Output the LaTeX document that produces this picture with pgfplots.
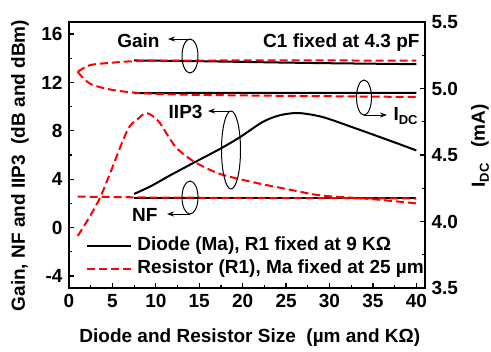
\documentclass[border=0pt]{standalone}
\usepackage{fontspec}
\setmainfont{Liberation Sans}
\usepackage{pgfplots}
\pgfplotsset{compat=1.18}
\usetikzlibrary{arrows.meta}
\begin{document}
\fontsize{19bp}{22bp}\selectfont\bfseries
\begin{tikzpicture}[x=1bp,y=1bp]
\path[use as bounding box] (-69,-63) rectangle (422,288);
\pgfplotsset{
  mystyle/.style={
    at={(0,0)}, anchor=south west, scale only axis, width=356bp, height=266bp,
    xmin=0, xmax=41,
    tick align=inside, major tick length=5bp, minor tick length=3bp,
    every tick/.style={line width=1.2bp, black},
    axis line style={line width=2bp},
    ticklabel style={font=\fontsize{19bp}{22bp}\selectfont\bfseries},
    /pgf/number format/assume math mode=true,
  }
}
\begin{axis}[mystyle,
  ymin=-5, ymax=17,
  xtick={0,5,...,40}, ytick={-4,0,...,16},
  minor x tick num=1, minor y tick num=1,
  xtick pos=bottom, ytick pos=left,
  xlabel={Diode and Resistor Size\ \ (µm and KΩ)},
  ylabel={Gain, NF and IIP3\ \ (dB and dBm)},
  every axis x label/.style={at={(rel axis cs:0.508,-0.203)}, anchor=base},
  every axis y label/.style={at={(rel axis cs:-0.1376,0.46)}, rotate=90, anchor=center},
  legend style={at={(0.048,0.197)}, anchor=north west, draw=none, fill=none,
    inner sep=0pt, row sep=3bp,
    nodes={inner sep=1bp, text height=14bp, text depth=4bp},
    font=\fontsize{19bp}{22bp}\selectfont\bfseries},
  legend cell align=left,
  legend image code/.code={\draw[#1] (0bp,0bp) -- (44bp,0bp); \path (48bp,0bp);},
]
% black (diode)
\addplot[black, line width=2bp, smooth] coordinates {(7.5,2.78)(9.5,3.45)(11.6,4.3)(14.5,5.41)(17.4,6.51)(19.7,7.48)(22.3,8.73)(24.25,9.28)(26.4,9.47)(29.2,9.14)(33.1,8.18)(36.9,7.2)(40,6.38)};
\addlegendentry{Diode (Ma), R1 fixed at 9 KΩ}
\addplot[black, line width=2bp, forget plot] coordinates {(7.5,13.82)(15,13.76)(20,13.70)(25,13.64)(30,13.59)(35,13.55)(40,13.51)};
\addplot[black, line width=2bp, forget plot] coordinates {(7.5,2.45)(40,2.45)};
% red (resistor)
\addplot[red, line width=2bp, dash pattern=on 8bp off 4bp, smooth] coordinates {(1,-0.7)(3.56,2.45)(6.63,7.9)(7.78,8.87)(8.93,9.47)(10.3,8.8)(11.6,7.35)(12.56,6.45)(14.5,5.41)(17.36,4.44)(21.2,3.75)(26,3.05)(29.2,2.64)(34.6,2.37)(40,2.0)};
\addlegendentry{Resistor (R1), Ma fixed at 25 µm}
\addplot[red, line width=2bp, dash pattern=on 8bp off 4bp, smooth, forget plot] coordinates {(1,12.88)(2.4,13.43)(4.7,13.62)(7.4,13.76)(10,13.8)(20,13.82)(30,13.82)(40,13.8)};
\addplot[red, line width=2bp, dash pattern=on 8bp off 4bp, forget plot] coordinates {(1,2.56)(10,2.48)(20,2.45)(30,2.43)(40,2.40)};
\end{axis}
\begin{axis}[mystyle,
  ymin=3.5, ymax=5.5,
  axis x line=none, axis y line*=right,
  ytick={3.5,4,...,5.5}, minor y tick num=1,
  yticklabel style={/pgf/number format/.cd, fixed, fixed zerofill, precision=1},
  ylabel={I\raisebox{-4bp}{\fontsize{13bp}{13bp}\selectfont DC}\ \ \ (mA)},
  every axis y label/.style={at={(rel axis cs:1.1545,0.534)}, rotate=90, anchor=center},
]
\addplot[black, line width=2bp] coordinates {(7.5,4.966)(40,4.967)};
\addplot[red, line width=2bp, dash pattern=on 8bp off 4bp, smooth] coordinates {(1,5.125)(2.4,5.037)(4.7,4.993)(7.4,4.970)(11.6,4.956)(20,4.948)(30,4.942)(40,4.936)};
\end{axis}
% annotations
\begin{scope}[line width=1bp]
\draw (121,232) ellipse [x radius=8, y radius=17];
\draw[-{Stealth[length=7bp,width=5bp]}] (121,249) -- (99,249);
\node[anchor=base east, inner sep=0pt] at (91,241) {Gain};
\node[anchor=base east, inner sep=0pt] at (351,241) {C1 fixed at 4.3 pF};
\draw (162,138) ellipse [x radius=9.5, y radius=39];
\draw[-{Stealth[length=7bp,width=5bp]}] (162,177) -- (139,177);
\node[anchor=base east, inner sep=0pt] at (134,170) {IIP3};
\draw (121,90.5) ellipse [x radius=8, y radius=16.5];
\draw[-{Stealth[length=7bp,width=5bp]}] (121,74) -- (98,74);
\node[anchor=base east, inner sep=0pt] at (89,67) {NF};
\draw (295,190.5) ellipse [x radius=7.5, y radius=17.5];
\draw[-{Stealth[length=7bp,width=5bp]}] (295,173) -- (318,173);
\node[anchor=base west, inner sep=0pt] at (324,168) {I\raisebox{-4bp}{\fontsize{13bp}{13bp}\selectfont DC}};
\end{scope}
\end{tikzpicture}
\end{document}
